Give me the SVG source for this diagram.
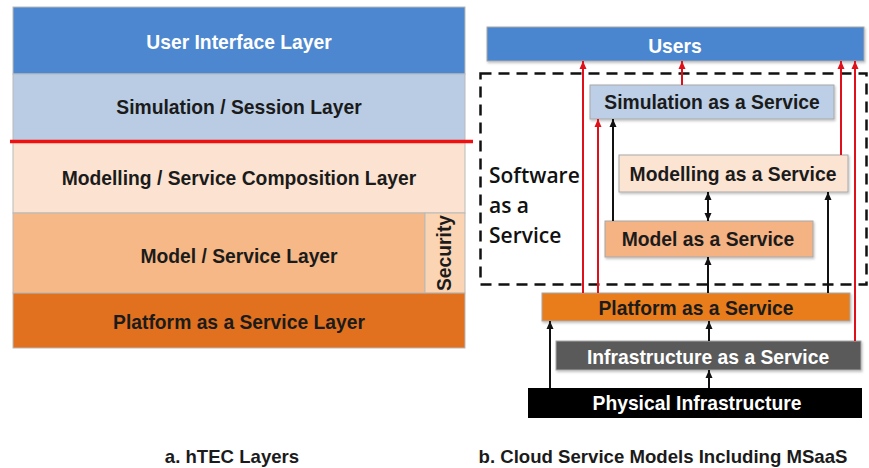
<svg xmlns="http://www.w3.org/2000/svg" width="869" height="468" viewBox="0 0 869 468">
<style>
.lbl{font-family:"Liberation Sans",Arial,sans-serif;font-weight:bold;font-size:19.3px;text-anchor:middle;fill:#1b1b1b}
.wht{fill:#ffffff}
.cap{font-family:"Liberation Sans",Arial,sans-serif;font-weight:bold;font-size:18.6px;text-anchor:middle;fill:#1b1b1b}
.saas{font-family:"Open Sans","Liberation Sans",sans-serif;font-size:21px;font-weight:600;fill:#111}
.lay{stroke:#b9b9b9;stroke-width:1}
.box{stroke:#a8a8a8;stroke-width:1;filter:url(#sh)}
.red{stroke:#e0101a;stroke-width:2;fill:none;marker-end:url(#ar)}
.blk{stroke:#111;stroke-width:2;fill:none;marker-end:url(#ab)}
</style>
<defs>
<marker id="ar" markerUnits="userSpaceOnUse" markerWidth="8" markerHeight="8" refX="8" refY="4" orient="auto"><path d="M0,0.5 L8,4 L0,7.5 z" fill="#e0101a"/></marker>
<marker id="ab" markerUnits="userSpaceOnUse" markerWidth="8" markerHeight="8" refX="8" refY="4" orient="auto"><path d="M0,0.5 L8,4 L0,7.5 z" fill="#111"/></marker>
<marker id="abs" markerUnits="userSpaceOnUse" markerWidth="8" markerHeight="8" refX="0" refY="4" orient="auto"><path d="M8,0.5 L0,4 L8,7.5 z" fill="#111"/></marker>
<filter id="sh" x="-5%" y="-20%" width="110%" height="150%"><feDropShadow dx="1" dy="1.5" stdDeviation="1" flood-color="#000" flood-opacity="0.25"/></filter>
</defs>
<rect width="869" height="468" fill="#ffffff"/>

<!-- Left: hTEC layers -->
<g id="ui-layer"><rect class="lay" x="13" y="7" width="452" height="67" fill="#4d87d0"/><text class="lbl wht" x="239" y="49">User Interface Layer</text></g>
<g id="sim-layer"><rect class="lay" x="13" y="74" width="452" height="67" fill="#b9cce4"/><text class="lbl" x="239" y="114">Simulation / Session Layer</text></g>
<g id="modelling-layer"><rect class="lay" x="13" y="141" width="452" height="72" fill="#fce3d1"/><text class="lbl" x="239" y="185">Modelling / Service Composition Layer</text></g>
<g id="model-layer"><rect class="lay" x="13" y="213" width="412" height="80" fill="#f6b886"/><text class="lbl" x="239" y="263">Model / Service Layer</text></g>
<g id="security"><rect class="lay" x="425" y="213" width="40" height="80" fill="#fbd4b3"/><text class="lbl" x="0" y="0" font-size="16" transform="translate(451,253) rotate(-90)">Security</text></g>
<g id="paas-layer"><rect class="lay" x="13" y="293" width="452" height="55" fill="#e1711f"/><text class="lbl" x="239" y="329">Platform as a Service Layer</text></g>
<line x1="10" y1="141.5" x2="473" y2="141.5" stroke="#f01010" stroke-width="3.5"/>

<!-- Right: cloud service models -->
<g id="saas-group"><rect x="480.5" y="73.5" width="386" height="211" fill="none" stroke="#111" stroke-width="2.5" stroke-dasharray="11 7"/>
<text class="saas" x="489" y="183">Software</text><text class="saas" x="489" y="213">as a</text><text class="saas" x="489" y="243">Service</text></g>
<g id="users"><rect class="box" x="487" y="27" width="377" height="34" fill="#4a86cf"/><text class="lbl wht" x="675" y="53">Users</text></g>
<g id="simaas"><rect class="box" x="590" y="85" width="244" height="34" fill="#bccfe6"/><text class="lbl" x="712" y="109">Simulation as a Service</text></g>
<g id="modellingaas"><rect class="box" x="619" y="155" width="229" height="37" fill="#fce4d3"/><text class="lbl" x="733" y="181">Modelling as a Service</text></g>
<g id="modelaas"><rect class="box" x="605" y="221" width="208" height="36" fill="#f5b283"/><text class="lbl" x="708" y="246">Model as a Service</text></g>
<g id="paas"><rect class="box" x="542" y="293" width="308" height="28" fill="#e97d1e"/><text class="lbl" x="696" y="315">Platform as a Service</text></g>
<g id="iaas"><rect class="box" x="556" y="341" width="305" height="29" fill="#5a5a5a"/><text class="lbl wht" x="708" y="364">Infrastructure as a Service</text></g>
<g id="physical"><rect x="528" y="388" width="334" height="30" fill="#000000"/><text class="lbl wht" x="697" y="410">Physical Infrastructure</text></g>

<g id="connectors">
<line class="red" x1="583" y1="293" x2="583" y2="61"/>
<line class="red" x1="598" y1="293" x2="598" y2="119"/>
<line class="red" x1="682" y1="85" x2="682" y2="61"/>
<line class="red" x1="841" y1="155" x2="841" y2="61"/>
<line class="red" x1="855" y1="341" x2="855" y2="61"/>
<line class="blk" x1="613" y1="221" x2="613" y2="119"/>
<line class="blk" x1="708" y1="221" x2="708" y2="192" marker-start="url(#abs)"/>
<line class="blk" x1="708" y1="293" x2="708" y2="257"/>
<line class="blk" x1="828" y1="293" x2="828" y2="192"/>
<line class="blk" x1="550" y1="388" x2="550" y2="321"/>
<line class="blk" x1="709" y1="341" x2="709" y2="321"/>
<line class="blk" x1="709" y1="388" x2="709" y2="370"/>
</g>

<text class="cap" x="232" y="463">a. hTEC Layers</text>
<text class="cap" x="663" y="463">b. Cloud Service Models Including MSaaS</text>
</svg>
